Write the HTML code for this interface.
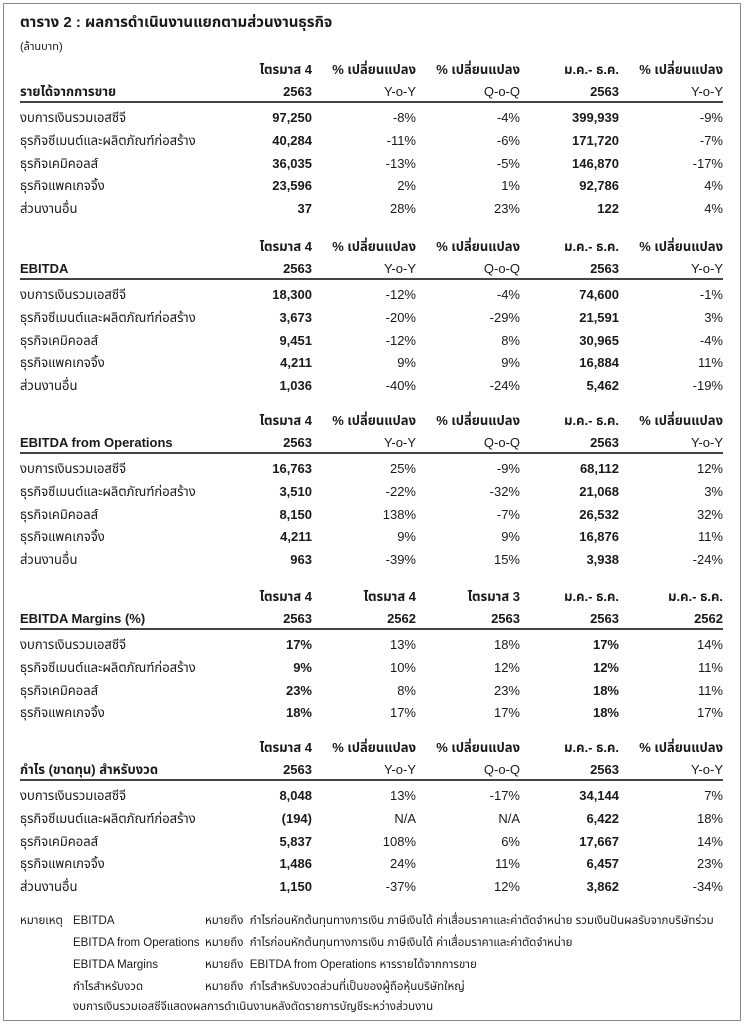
<!DOCTYPE html>
<html><head><meta charset="utf-8"><style>
html,body{margin:0;padding:0;background:#fff}
body{width:744px;height:1024px;position:relative;overflow:hidden;font-family:"Liberation Sans","Noto Sans Thai","Tlwg Typist","Garuda",sans-serif;color:#1a1a1a;font-size:13px}
.frame{position:absolute;left:3px;top:3px;width:736px;height:1016px;border:1.5px solid #8a8a8a}
.r{position:absolute;left:0;width:744px;height:16px;line-height:16px}
.r span{position:absolute;white-space:nowrap}
.l{left:20px}
.c1{right:432px}.c2{right:328px}.c3{right:224px}.c4{right:125px}.c5{right:21px}
.b{font-weight:bold}
.h span{font-weight:bold}
.d .c1,.d .c4{font-weight:bold}
.line{position:absolute;left:20px;width:703px;height:2px;background:#444}
.n{font-size:11.5px}
</style></head><body>
<div class="frame"></div>
<div class="r b" style="top:15px;font-size:15px"><span class="l">ตาราง 2 : ผลการดำเนินงานแยกตามส่วนงานธุรกิจ</span></div>
<div class="r" style="top:39px;font-size:11px"><span class="l">(ล้านบาท)</span></div>

<!-- S1 -->
<div class="r h" style="top:62px"><span class="c1">ไตรมาส 4</span><span class="c2">% เปลี่ยนแปลง</span><span class="c3">% เปลี่ยนแปลง</span><span class="c4">ม.ค.- ธ.ค.</span><span class="c5">% เปลี่ยนแปลง</span></div>
<div class="r h" style="top:84px"><span class="l">รายได้จากการขาย</span><span class="c1">2563</span><span class="c2" style="font-weight:normal">Y-o-Y</span><span class="c3" style="font-weight:normal">Q-o-Q</span><span class="c4">2563</span><span class="c5" style="font-weight:normal">Y-o-Y</span></div>
<div class="line" style="top:101px"></div>
<div class="r d" style="top:110px"><span class="l">งบการเงินรวมเอสซีจี</span><span class="c1">97,250</span><span class="c2">-8%</span><span class="c3">-4%</span><span class="c4">399,939</span><span class="c5">-9%</span></div>
<div class="r d" style="top:133px"><span class="l">ธุรกิจซีเมนต์และผลิตภัณฑ์ก่อสร้าง</span><span class="c1">40,284</span><span class="c2">-11%</span><span class="c3">-6%</span><span class="c4">171,720</span><span class="c5">-7%</span></div>
<div class="r d" style="top:156px"><span class="l">ธุรกิจเคมิคอลส์</span><span class="c1">36,035</span><span class="c2">-13%</span><span class="c3">-5%</span><span class="c4">146,870</span><span class="c5">-17%</span></div>
<div class="r d" style="top:178px"><span class="l">ธุรกิจแพคเกจจิ้ง</span><span class="c1">23,596</span><span class="c2">2%</span><span class="c3">1%</span><span class="c4">92,786</span><span class="c5">4%</span></div>
<div class="r d" style="top:201px"><span class="l">ส่วนงานอื่น</span><span class="c1">37</span><span class="c2">28%</span><span class="c3">23%</span><span class="c4">122</span><span class="c5">4%</span></div>

<!-- S2 -->
<div class="r h" style="top:239px"><span class="c1">ไตรมาส 4</span><span class="c2">% เปลี่ยนแปลง</span><span class="c3">% เปลี่ยนแปลง</span><span class="c4">ม.ค.- ธ.ค.</span><span class="c5">% เปลี่ยนแปลง</span></div>
<div class="r h" style="top:261px"><span class="l">EBITDA</span><span class="c1">2563</span><span class="c2" style="font-weight:normal">Y-o-Y</span><span class="c3" style="font-weight:normal">Q-o-Q</span><span class="c4">2563</span><span class="c5" style="font-weight:normal">Y-o-Y</span></div>
<div class="line" style="top:278px"></div>
<div class="r d" style="top:287px"><span class="l">งบการเงินรวมเอสซีจี</span><span class="c1">18,300</span><span class="c2">-12%</span><span class="c3">-4%</span><span class="c4">74,600</span><span class="c5">-1%</span></div>
<div class="r d" style="top:310px"><span class="l">ธุรกิจซีเมนต์และผลิตภัณฑ์ก่อสร้าง</span><span class="c1">3,673</span><span class="c2">-20%</span><span class="c3">-29%</span><span class="c4">21,591</span><span class="c5">3%</span></div>
<div class="r d" style="top:333px"><span class="l">ธุรกิจเคมิคอลส์</span><span class="c1">9,451</span><span class="c2">-12%</span><span class="c3">8%</span><span class="c4">30,965</span><span class="c5">-4%</span></div>
<div class="r d" style="top:355px"><span class="l">ธุรกิจแพคเกจจิ้ง</span><span class="c1">4,211</span><span class="c2">9%</span><span class="c3">9%</span><span class="c4">16,884</span><span class="c5">11%</span></div>
<div class="r d" style="top:378px"><span class="l">ส่วนงานอื่น</span><span class="c1">1,036</span><span class="c2">-40%</span><span class="c3">-24%</span><span class="c4">5,462</span><span class="c5">-19%</span></div>

<!-- S3 -->
<div class="r h" style="top:413px"><span class="c1">ไตรมาส 4</span><span class="c2">% เปลี่ยนแปลง</span><span class="c3">% เปลี่ยนแปลง</span><span class="c4">ม.ค.- ธ.ค.</span><span class="c5">% เปลี่ยนแปลง</span></div>
<div class="r h" style="top:435px"><span class="l">EBITDA from Operations</span><span class="c1">2563</span><span class="c2" style="font-weight:normal">Y-o-Y</span><span class="c3" style="font-weight:normal">Q-o-Q</span><span class="c4">2563</span><span class="c5" style="font-weight:normal">Y-o-Y</span></div>
<div class="line" style="top:452px"></div>
<div class="r d" style="top:461px"><span class="l">งบการเงินรวมเอสซีจี</span><span class="c1">16,763</span><span class="c2">25%</span><span class="c3">-9%</span><span class="c4">68,112</span><span class="c5">12%</span></div>
<div class="r d" style="top:484px"><span class="l">ธุรกิจซีเมนต์และผลิตภัณฑ์ก่อสร้าง</span><span class="c1">3,510</span><span class="c2">-22%</span><span class="c3">-32%</span><span class="c4">21,068</span><span class="c5">3%</span></div>
<div class="r d" style="top:507px"><span class="l">ธุรกิจเคมิคอลส์</span><span class="c1">8,150</span><span class="c2">138%</span><span class="c3">-7%</span><span class="c4">26,532</span><span class="c5">32%</span></div>
<div class="r d" style="top:529px"><span class="l">ธุรกิจแพคเกจจิ้ง</span><span class="c1">4,211</span><span class="c2">9%</span><span class="c3">9%</span><span class="c4">16,876</span><span class="c5">11%</span></div>
<div class="r d" style="top:552px"><span class="l">ส่วนงานอื่น</span><span class="c1">963</span><span class="c2">-39%</span><span class="c3">15%</span><span class="c4">3,938</span><span class="c5">-24%</span></div>

<!-- S4 -->
<div class="r h" style="top:589px"><span class="c1">ไตรมาส 4</span><span class="c2">ไตรมาส 4</span><span class="c3">ไตรมาส 3</span><span class="c4">ม.ค.- ธ.ค.</span><span class="c5">ม.ค.- ธ.ค.</span></div>
<div class="r h" style="top:611px"><span class="l">EBITDA Margins (%)</span><span class="c1">2563</span><span class="c2">2562</span><span class="c3">2563</span><span class="c4">2563</span><span class="c5">2562</span></div>
<div class="line" style="top:628px"></div>
<div class="r d" style="top:637px"><span class="l">งบการเงินรวมเอสซีจี</span><span class="c1">17%</span><span class="c2">13%</span><span class="c3">18%</span><span class="c4">17%</span><span class="c5">14%</span></div>
<div class="r d" style="top:660px"><span class="l">ธุรกิจซีเมนต์และผลิตภัณฑ์ก่อสร้าง</span><span class="c1">9%</span><span class="c2">10%</span><span class="c3">12%</span><span class="c4">12%</span><span class="c5">11%</span></div>
<div class="r d" style="top:683px"><span class="l">ธุรกิจเคมิคอลส์</span><span class="c1">23%</span><span class="c2">8%</span><span class="c3">23%</span><span class="c4">18%</span><span class="c5">11%</span></div>
<div class="r d" style="top:705px"><span class="l">ธุรกิจแพคเกจจิ้ง</span><span class="c1">18%</span><span class="c2">17%</span><span class="c3">17%</span><span class="c4">18%</span><span class="c5">17%</span></div>

<!-- S5 -->
<div class="r h" style="top:740px"><span class="c1">ไตรมาส 4</span><span class="c2">% เปลี่ยนแปลง</span><span class="c3">% เปลี่ยนแปลง</span><span class="c4">ม.ค.- ธ.ค.</span><span class="c5">% เปลี่ยนแปลง</span></div>
<div class="r h" style="top:762px"><span class="l">กำไร (ขาดทุน) สำหรับงวด</span><span class="c1">2563</span><span class="c2" style="font-weight:normal">Y-o-Y</span><span class="c3" style="font-weight:normal">Q-o-Q</span><span class="c4">2563</span><span class="c5" style="font-weight:normal">Y-o-Y</span></div>
<div class="line" style="top:779px"></div>
<div class="r d" style="top:788px"><span class="l">งบการเงินรวมเอสซีจี</span><span class="c1">8,048</span><span class="c2">13%</span><span class="c3">-17%</span><span class="c4">34,144</span><span class="c5">7%</span></div>
<div class="r d" style="top:811px"><span class="l">ธุรกิจซีเมนต์และผลิตภัณฑ์ก่อสร้าง</span><span class="c1">(194)</span><span class="c2">N/A</span><span class="c3">N/A</span><span class="c4">6,422</span><span class="c5">18%</span></div>
<div class="r d" style="top:834px"><span class="l">ธุรกิจเคมิคอลส์</span><span class="c1">5,837</span><span class="c2">108%</span><span class="c3">6%</span><span class="c4">17,667</span><span class="c5">14%</span></div>
<div class="r d" style="top:856px"><span class="l">ธุรกิจแพคเกจจิ้ง</span><span class="c1">1,486</span><span class="c2">24%</span><span class="c3">11%</span><span class="c4">6,457</span><span class="c5">23%</span></div>
<div class="r d" style="top:879px"><span class="l">ส่วนงานอื่น</span><span class="c1">1,150</span><span class="c2">-37%</span><span class="c3">12%</span><span class="c4">3,862</span><span class="c5">-34%</span></div>

<!-- notes -->
<div class="r n" style="top:913px"><span style="left:20px">หมายเหตุ</span><span style="left:73px">EBITDA</span><span style="left:205px">หมายถึง &nbsp;กำไรก่อนหักต้นทุนทางการเงิน ภาษีเงินได้ ค่าเสื่อมราคาและค่าตัดจำหน่าย รวมเงินปันผลรับจากบริษัทร่วม</span></div>
<div class="r n" style="top:935px"><span style="left:73px">EBITDA from Operations</span><span style="left:205px">หมายถึง &nbsp;กำไรก่อนหักต้นทุนทางการเงิน ภาษีเงินได้ ค่าเสื่อมราคาและค่าตัดจำหน่าย</span></div>
<div class="r n" style="top:957px"><span style="left:73px">EBITDA Margins</span><span style="left:205px">หมายถึง &nbsp;EBITDA from Operations หารรายได้จากการขาย</span></div>
<div class="r n" style="top:979px"><span style="left:73px">กำไรสำหรับงวด</span><span style="left:205px">หมายถึง &nbsp;กำไรสำหรับงวดส่วนที่เป็นของผู้ถือหุ้นบริษัทใหญ่</span></div>
<div class="r n" style="top:999px"><span style="left:73px">งบการเงินรวมเอสซีจีแสดงผลการดำเนินงานหลังตัดรายการบัญชีระหว่างส่วนงาน</span></div>
</body></html>
